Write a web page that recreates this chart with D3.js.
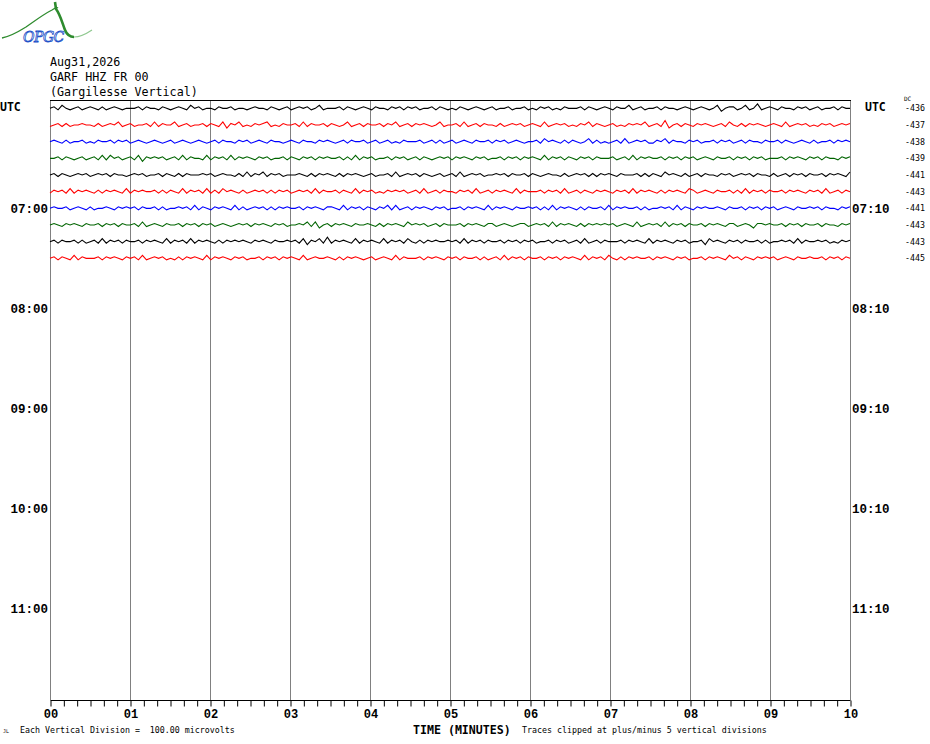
<!DOCTYPE html>
<html><head><meta charset="utf-8">
<script src="https://cdn.jsdelivr.net/npm/d3@7"></script>
<style>
html,body{margin:0;padding:0;background:#fff;}
svg{display:block;}
</style></head>
<body>
<script>
// ---------- DATA ----------
const titleLines = ["Aug31,2026", "GARF HHZ FR 00", "(Gargilesse Vertical)"];
const minuteLabels = ["00","01","02","03","04","05","06","07","08","09","10"];
const hourRows = [6, 12, 18, 24, 30];
const hourLabelsLeft = ["07:00","08:00","09:00","10:00","11:00"];
const hourLabelsRight = ["07:10","08:10","09:10","10:10","11:10"];
const dcValues = [-436, -437, -438, -439, -441, -443, -441, -443, -443, -445];
const traceColors = ["#000000", "#ff0000", "#0000ff", "#006400"];
// Each trace: samples every 3 s over 10 min; digit d -> (d-4)*9 microvolts
const traceStrings = [
"4536434534 5435345434 4453544354 3454364534 4354453443 4544354345 3454534634 4453543454 3544354535 4534453543 4354345434 5344534453 4354534354 4453543454 3544634534 4535443454 3454346245 5346347345 4354435453 4534453544",
"3453534454 4353454634 5344536354 4634534453 5436254634 3545634354 4536354453 5434634535 4453546345 3545434634 4536345354 4353454534 5436345453 4354635434 5343545463 4537245354 3545434536 4353545434 5436345453 4354534545",
"4543534453 4354453545 3454345434 5345434543 4535443545 3454354434 5435443545 4345354453 4534534354 4453453534 5345435445 3545345434 4536454353 5434635343 4536345453 3546354435 4534453545 3453544354 4535434543 5344535454",
"4453543453 4536364534 5362545453 4536354436 3545363545 4354534453 5435453545 4453536354 5344535453 4535434545 3545435453 4453545354 5436354535 4354535444 5345363545 4453545354 5345435445 3545354534 4453545435 4535443545",
"4535434545 3454535443 4545344535 4353544454 5345443536 3546354534 4454353545 4353545434 5344536345 4535434534 5363454534 4545354453 5434544353 4545353545 4354445353 5436454353 4535443545 3454535443 5345354535 4453545436",
"3545363545 4353545436 3545445353 5436354536 3536454353 4545353545 3454536354 4535436354 5343545453 4536345354 4354536345 3545436354 4453545363 4535435454 3545363545 4353545436 5345435445 3536354535 4453545435 4536345354",
"4544534543 5344543545 4535445353 4454536354 3545436353 4545353545 4453545435 5436354535 4354636345 3545435453 4453545436 3545435445 4535363545 4353544536 3545445353 4454536354 3545445435 4453545354 5345435445 4535443545",
"4543545435 4453545354 4536345435 4453545354 5345434545 3545435453 4454636245 3545435445 4353545436 4545345354 4453545435 5345434553 4545363545 4353545454 5345436345 4536354535 4453545435 5345425545 4453545354 4535443545",
"4535445353 4536354535 4453545436 3545363545 4353545454 3545435445 4536254637 3545436354 5436354536 4353545445 4536354535 4453545354 5344535453 4536345354 4453545436 3545435453 4452645435 4535445353 4454536354 4545343545",
"4535436354 4453545435 4536345453 4353545436 3545435453 4453545354 5436345445 4353545434 5345436354 4453545435 4535445353 4536354535 4453545354 5436354536 4353545445 3545435453 4453545436 4535435454 5345435445 4453545354"
];
const traces = traceStrings.map(s => s.replace(/\s/g, "").split("").map(c => (+c - 4) * 9));

// ---------- LAYOUT ----------
const W = 930, H = 744;
const svg = d3.select("body").append("svg").attr("width", W).attr("height", H)
  .style("background", "#fff");

const x = d3.scaleLinear().domain([0, 10]).range([50, 850]);
const rows = d3.scaleLinear().domain([0, 36]).range([100, 700]);
const rowH = rows(1) - rows(0);
const amp = d3.scaleLinear().domain([-100, 100]).range([rowH, -rowH]);

const mono = "'DejaVu Sans Mono', monospace";
const monoB = "'Liberation Mono', 'DejaVu Sans Mono', monospace";

// Logo
const logo = svg.append("g");
logo.append("path")
  .attr("d", "M2,38 C12,36 18,32 26,27 C36,20 44,14 52,10 C55,8 57,7 58,8")
  .attr("fill", "none").attr("stroke", "#2e8b2e").attr("stroke-width", 1.3);
logo.append("path")
  .attr("d", "M55,2 L56,9 C60,14 62,22 65,30 C67,35 70,37 74,37")
  .attr("fill", "none").attr("stroke", "#2e8b2e").attr("stroke-width", 2.6);
logo.append("path")
  .attr("d", "M74,37 C80,37 86,34 92,30")
  .attr("fill", "none").attr("stroke", "#8fc88f").attr("stroke-width", 1.2);
logo.append("text").attr("x", 23).attr("y", 42).text("OPGC")
  .attr("font-family", "'DejaVu Serif', serif").attr("font-style", "italic")
  .attr("font-size", 14).attr("fill", "#fff").attr("stroke", "#2050c8").attr("stroke-width", 0.8)
  .attr("letter-spacing", -0.5);

// Title
svg.append("g").selectAll("text").data(titleLines).join("text")
  .attr("x", 50).attr("y", (d, i) => 66 + i * 15)
  .attr("font-family", mono).attr("font-size", 11.7).attr("fill", "#000")
  .text(d => d);

// Grid lines (minutes)
svg.append("g").selectAll("line").data(d3.range(0, 11)).join("line")
  .attr("x1", d => x(d) + 0.5).attr("x2", d => x(d) + 0.5)
  .attr("y1", rows(0)).attr("y2", rows(36))
  .attr("stroke", "#808080").attr("stroke-width", 1);
// top border
svg.append("line").attr("x1", x(0)).attr("x2", x(10) + 1)
  .attr("y1", rows(0) + 0.5).attr("y2", rows(0) + 0.5)
  .attr("stroke", "#000").attr("stroke-width", 1);

// Bottom axis
const axis = d3.axisBottom(x)
  .tickValues(d3.range(0, 61).map(i => i / 6))
  .tickSize(6).tickFormat("");
const ax = svg.append("g").attr("transform", `translate(0.5,${rows(36) + 0.5})`).call(axis);
ax.select(".domain").attr("stroke", "#000").attr("d", `M${x(0)},0H${x(10)}`);
ax.selectAll(".tick line").attr("stroke", "#000");

svg.append("g").selectAll("text").data(minuteLabels).join("text")
  .attr("x", (d, i) => x(i) + 1).attr("y", 718)
  .attr("text-anchor", "middle")
  .attr("font-family", monoB).attr("font-weight", "bold").attr("font-size", 12)
  .text(d => d);

// UTC labels
svg.append("text").attr("x", 0).attr("y", 111).text("UTC")
  .attr("font-family", mono).attr("font-weight", "bold").attr("font-size", 11.5);
svg.append("text").attr("x", 865).attr("y", 111).text("UTC")
  .attr("font-family", mono).attr("font-weight", "bold").attr("font-size", 11.5);

// Hour labels
svg.append("g").selectAll("text").data(hourRows).join("text")
  .attr("x", 48).attr("y", d => rows(d + 0.5) + 4.5)
  .attr("text-anchor", "end")
  .attr("font-family", monoB).attr("font-weight", "bold").attr("font-size", 12.5)
  .text((d, i) => hourLabelsLeft[i]);
svg.append("g").selectAll("text").data(hourRows).join("text")
  .attr("x", 852).attr("y", d => rows(d + 0.5) + 4.5)
  .attr("font-family", monoB).attr("font-weight", "bold").attr("font-size", 12.5)
  .text((d, i) => hourLabelsRight[i]);

// DC labels
svg.append("text").attr("x", 904).attr("y", 101).text("DC")
  .attr("font-family", mono).attr("font-size", 6);
svg.append("g").selectAll("text").data(dcValues).join("text")
  .attr("x", 905).attr("y", (d, i) => rows(i + 0.5) + 3)
  .attr("font-family", mono).attr("font-size", 8.3)
  .text(d => d);

// Traces
const g = svg.append("g");
traces.forEach((vals, r) => {
  const y0 = rows(r + 0.5);
  const n = vals.length;
  const line = d3.line()
    .x((d, j) => x(j * 10 / (n - 1)))
    .y(d => y0 + amp(d));
  g.append("path").datum(vals)
    .attr("d", line)
    .attr("fill", "none")
    .attr("stroke", traceColors[r % 4])
    .attr("stroke-width", 1.1)
    .attr("stroke-linejoin", "miter");
});

// Footer
svg.append("text").attr("x", 3).attr("y", 733).text("JL")
  .attr("font-family", mono).attr("font-size", 5);
svg.append("text").attr("x", 20).attr("y", 733)
  .text("Each Vertical Division =  100.00 microvolts")
  .attr("font-family", mono).attr("font-size", 8.3)
  .style("white-space", "pre");
svg.append("text").attr("x", 413).attr("y", 734).text("TIME (MINUTES)")
  .attr("font-family", mono).attr("font-weight", "bold").attr("font-size", 11.6);
svg.append("text").attr("x", 522).attr("y", 733)
  .text("Traces clipped at plus/minus 5 vertical divisions")
  .attr("font-family", mono).attr("font-size", 8.3);
</script>
</body></html>
